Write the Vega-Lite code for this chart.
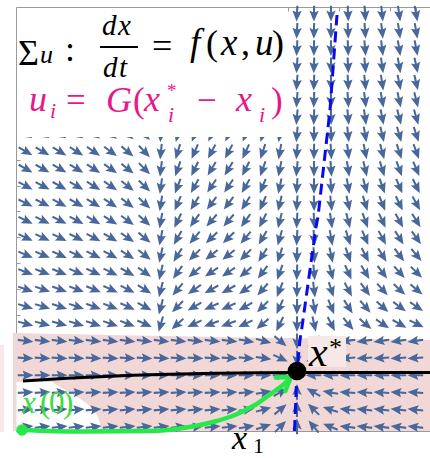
{
  "$schema": "https://vega.github.io/schema/vega-lite/v6.json",
  "width": 414,
  "height": 424,
  "autosize": {"type": "none"},
  "padding": {"left": 16, "top": 7, "right": 0, "bottom": 27},
  "config": {
    "view": {"stroke": "#9a9a9a", "strokeWidth": 1},
    "axis": {"labels": false, "domain": false, "grid": false, "title": null, "tickColor": "#9a9a9a", "tickSize": -4, "zindex": 1},
    "text": {"font": "Liberation Serif", "align": "left", "baseline": "alphabetic", "clip": false}
  },
  "resolve": {"axis": {"x": "independent", "y": "independent"}},
  "datasets": {
    "field": [
      {"i":16,"j":24,"a":183},{"i":17,"j":24,"a":181},{"i":18,"j":24,"a":180},{"i":19,"j":24,"a":178},{"i":20,"j":24,"a":176},{"i":21,"j":24,"a":174},{"i":22,"j":24,"a":172},{"i":23,"j":24,"a":170},
      {"i":16,"j":23,"a":183},{"i":17,"j":23,"a":181},{"i":18,"j":23,"a":180},{"i":19,"j":23,"a":178},{"i":20,"j":23,"a":176},{"i":21,"j":23,"a":174},{"i":22,"j":23,"a":172},{"i":23,"j":23,"a":170},
      {"i":16,"j":22,"a":183},{"i":17,"j":22,"a":181},{"i":18,"j":22,"a":180},{"i":19,"j":22,"a":178},{"i":20,"j":22,"a":175},{"i":21,"j":22,"a":173},{"i":22,"j":22,"a":171},{"i":23,"j":22,"a":169},
      {"i":16,"j":21,"a":184},{"i":17,"j":21,"a":182},{"i":18,"j":21,"a":180},{"i":19,"j":21,"a":177},{"i":20,"j":21,"a":175},{"i":21,"j":21,"a":172},{"i":22,"j":21,"a":170},{"i":23,"j":21,"a":168},
      {"i":16,"j":20,"a":184},{"i":17,"j":20,"a":182},{"i":18,"j":20,"a":179},{"i":19,"j":20,"a":177},{"i":20,"j":20,"a":174},{"i":21,"j":20,"a":171},{"i":22,"j":20,"a":169},{"i":23,"j":20,"a":167},
      {"i":16,"j":19,"a":184},{"i":17,"j":19,"a":182},{"i":18,"j":19,"a":179},{"i":19,"j":19,"a":176},{"i":20,"j":19,"a":173},{"i":21,"j":19,"a":170},{"i":22,"j":19,"a":168},{"i":23,"j":19,"a":166},
      {"i":16,"j":18,"a":185},{"i":17,"j":18,"a":182},{"i":18,"j":18,"a":179},{"i":19,"j":18,"a":175},{"i":20,"j":18,"a":172},{"i":21,"j":18,"a":169},{"i":22,"j":18,"a":166},{"i":23,"j":18,"a":164},
      {"i":0,"j":17,"a":120},{"i":1,"j":17,"a":120},{"i":2,"j":17,"a":121},{"i":3,"j":17,"a":122},{"i":4,"j":17,"a":124},{"i":5,"j":17,"a":126},{"i":6,"j":17,"a":130},{"i":7,"j":17,"a":136},
      {"i":8,"j":17,"a":185},{"i":9,"j":17,"a":195},{"i":10,"j":17,"a":202},{"i":11,"j":17,"a":206},{"i":12,"j":17,"a":206},{"i":13,"j":17,"a":203},{"i":14,"j":17,"a":197},{"i":15,"j":17,"a":190},
      {"i":16,"j":17,"a":185},{"i":17,"j":17,"a":181},{"i":18,"j":17,"a":178},{"i":19,"j":17,"a":174},{"i":20,"j":17,"a":170},{"i":21,"j":17,"a":167},{"i":22,"j":17,"a":164},{"i":23,"j":17,"a":162},
      {"i":0,"j":16,"a":120},{"i":1,"j":16,"a":120},{"i":2,"j":16,"a":121},{"i":3,"j":16,"a":122},{"i":4,"j":16,"a":124},{"i":5,"j":16,"a":126},{"i":6,"j":16,"a":130},{"i":7,"j":16,"a":136},
      {"i":8,"j":16,"a":186},{"i":9,"j":16,"a":197},{"i":10,"j":16,"a":204},{"i":11,"j":16,"a":208},{"i":12,"j":16,"a":208},{"i":13,"j":16,"a":205},{"i":14,"j":16,"a":198},{"i":15,"j":16,"a":190},
      {"i":16,"j":16,"a":185},{"i":17,"j":16,"a":181},{"i":18,"j":16,"a":177},{"i":19,"j":16,"a":173},{"i":20,"j":16,"a":169},{"i":21,"j":16,"a":165},{"i":22,"j":16,"a":162},{"i":23,"j":16,"a":160},
      {"i":0,"j":15,"a":119},{"i":1,"j":15,"a":119},{"i":2,"j":15,"a":120},{"i":3,"j":15,"a":121},{"i":4,"j":15,"a":123},{"i":5,"j":15,"a":125},{"i":6,"j":15,"a":129},{"i":7,"j":15,"a":135},
      {"i":8,"j":15,"a":187},{"i":9,"j":15,"a":199},{"i":10,"j":15,"a":206},{"i":11,"j":15,"a":211},{"i":12,"j":15,"a":211},{"i":13,"j":15,"a":207},{"i":14,"j":15,"a":200},{"i":15,"j":15,"a":191},
      {"i":16,"j":15,"a":185},{"i":17,"j":15,"a":180},{"i":18,"j":15,"a":176},{"i":19,"j":15,"a":171},{"i":20,"j":15,"a":167},{"i":21,"j":15,"a":163},{"i":22,"j":15,"a":160},{"i":23,"j":15,"a":157},
      {"i":0,"j":14,"a":118},{"i":1,"j":14,"a":118},{"i":2,"j":14,"a":119},{"i":3,"j":14,"a":120},{"i":4,"j":14,"a":122},{"i":5,"j":14,"a":124},{"i":6,"j":14,"a":128},{"i":7,"j":14,"a":134},
      {"i":8,"j":14,"a":188},{"i":9,"j":14,"a":201},{"i":10,"j":14,"a":209},{"i":11,"j":14,"a":214},{"i":12,"j":14,"a":214},{"i":13,"j":14,"a":210},{"i":14,"j":14,"a":202},{"i":15,"j":14,"a":192},
      {"i":16,"j":14,"a":184},{"i":17,"j":14,"a":180},{"i":18,"j":14,"a":175},{"i":19,"j":14,"a":170},{"i":20,"j":14,"a":165},{"i":21,"j":14,"a":161},{"i":22,"j":14,"a":157},{"i":23,"j":14,"a":154},
      {"i":0,"j":13,"a":117},{"i":1,"j":13,"a":117},{"i":2,"j":13,"a":118},{"i":3,"j":13,"a":119},{"i":4,"j":13,"a":121},{"i":5,"j":13,"a":123},{"i":6,"j":13,"a":127},{"i":7,"j":13,"a":133},
      {"i":8,"j":13,"a":189},{"i":9,"j":13,"a":203},{"i":10,"j":13,"a":212},{"i":11,"j":13,"a":217},{"i":12,"j":13,"a":217},{"i":13,"j":13,"a":213},{"i":14,"j":13,"a":204},{"i":15,"j":13,"a":193},
      {"i":16,"j":13,"a":184},{"i":17,"j":13,"a":179},{"i":18,"j":13,"a":174},{"i":19,"j":13,"a":168},{"i":20,"j":13,"a":163},{"i":21,"j":13,"a":158},{"i":22,"j":13,"a":154},{"i":23,"j":13,"a":151},
      {"i":0,"j":12,"a":116},{"i":1,"j":12,"a":116},{"i":2,"j":12,"a":117},{"i":3,"j":12,"a":118},{"i":4,"j":12,"a":120},{"i":5,"j":12,"a":122},{"i":6,"j":12,"a":126},{"i":7,"j":12,"a":132},
      {"i":8,"j":12,"a":190},{"i":9,"j":12,"a":206},{"i":10,"j":12,"a":216},{"i":11,"j":12,"a":221},{"i":12,"j":12,"a":221},{"i":13,"j":12,"a":216},{"i":14,"j":12,"a":207},{"i":15,"j":12,"a":194},
      {"i":16,"j":12,"a":183},{"i":17,"j":12,"a":178},{"i":18,"j":12,"a":172},{"i":19,"j":12,"a":166},{"i":20,"j":12,"a":160},{"i":21,"j":12,"a":155},{"i":22,"j":12,"a":151},{"i":23,"j":12,"a":148},
      {"i":0,"j":11,"a":115},{"i":1,"j":11,"a":115},{"i":2,"j":11,"a":116},{"i":3,"j":11,"a":117},{"i":4,"j":11,"a":118},{"i":5,"j":11,"a":120},{"i":6,"j":11,"a":124},{"i":7,"j":11,"a":130},
      {"i":8,"j":11,"a":191},{"i":9,"j":11,"a":209},{"i":10,"j":11,"a":220},{"i":11,"j":11,"a":226},{"i":12,"j":11,"a":226},{"i":13,"j":11,"a":220},{"i":14,"j":11,"a":210},{"i":15,"j":11,"a":196},
      {"i":16,"j":11,"a":183},{"i":17,"j":11,"a":177},{"i":18,"j":11,"a":170},{"i":19,"j":11,"a":163},{"i":20,"j":11,"a":157},{"i":21,"j":11,"a":152},{"i":22,"j":11,"a":148},{"i":23,"j":11,"a":144},
      {"i":0,"j":10,"a":113},{"i":1,"j":10,"a":113},{"i":2,"j":10,"a":114},{"i":3,"j":10,"a":115},{"i":4,"j":10,"a":116},{"i":5,"j":10,"a":118},{"i":6,"j":10,"a":122},{"i":7,"j":10,"a":128},
      {"i":8,"j":10,"a":192},{"i":9,"j":10,"a":212},{"i":10,"j":10,"a":225},{"i":11,"j":10,"a":231},{"i":12,"j":10,"a":231},{"i":13,"j":10,"a":225},{"i":14,"j":10,"a":213},{"i":15,"j":10,"a":198},
      {"i":16,"j":10,"a":182},{"i":17,"j":10,"a":176},{"i":18,"j":10,"a":168},{"i":19,"j":10,"a":160},{"i":20,"j":10,"a":153},{"i":21,"j":10,"a":148},{"i":22,"j":10,"a":143},{"i":23,"j":10,"a":140},
      {"i":0,"j":9,"a":111},{"i":1,"j":9,"a":111},{"i":2,"j":9,"a":112},{"i":3,"j":9,"a":113},{"i":4,"j":9,"a":114},{"i":5,"j":9,"a":116},{"i":6,"j":9,"a":119},{"i":7,"j":9,"a":125},
      {"i":8,"j":9,"a":193},{"i":9,"j":9,"a":216},{"i":10,"j":9,"a":230},{"i":11,"j":9,"a":236},{"i":12,"j":9,"a":236},{"i":13,"j":9,"a":230},{"i":14,"j":9,"a":217},{"i":15,"j":9,"a":200},
      {"i":16,"j":9,"a":182},{"i":17,"j":9,"a":175},{"i":18,"j":9,"a":165},{"i":19,"j":9,"a":156},{"i":20,"j":9,"a":149},{"i":21,"j":9,"a":143},{"i":22,"j":9,"a":138},{"i":23,"j":9,"a":135},
      {"i":0,"j":8,"a":109},{"i":1,"j":8,"a":109},{"i":2,"j":8,"a":110},{"i":3,"j":8,"a":111},{"i":4,"j":8,"a":112},{"i":5,"j":8,"a":114},{"i":6,"j":8,"a":117},{"i":7,"j":8,"a":122},
      {"i":8,"j":8,"a":194},{"i":9,"j":8,"a":220},{"i":10,"j":8,"a":235},{"i":11,"j":8,"a":241},{"i":12,"j":8,"a":241},{"i":13,"j":8,"a":235},{"i":14,"j":8,"a":221},{"i":15,"j":8,"a":202},
      {"i":16,"j":8,"a":181},{"i":17,"j":8,"a":173},{"i":18,"j":8,"a":162},{"i":19,"j":8,"a":152},{"i":20,"j":8,"a":144},{"i":21,"j":8,"a":138},{"i":22,"j":8,"a":133},{"i":23,"j":8,"a":130},
      {"i":0,"j":7,"a":107},{"i":1,"j":7,"a":107},{"i":2,"j":7,"a":108},{"i":3,"j":7,"a":109},{"i":4,"j":7,"a":110},{"i":5,"j":7,"a":111},{"i":6,"j":7,"a":114},{"i":7,"j":7,"a":118},
      {"i":8,"j":7,"a":195},{"i":9,"j":7,"a":224},{"i":10,"j":7,"a":240},{"i":11,"j":7,"a":246},{"i":12,"j":7,"a":246},{"i":13,"j":7,"a":240},{"i":14,"j":7,"a":225},{"i":15,"j":7,"a":204},
      {"i":16,"j":7,"a":181},{"i":17,"j":7,"a":171},{"i":18,"j":7,"a":158},{"i":19,"j":7,"a":147},{"i":20,"j":7,"a":139},{"i":21,"j":7,"a":132},{"i":22,"j":7,"a":127},{"i":23,"j":7,"a":124},
      {"i":0,"j":6,"a":105},{"i":1,"j":6,"a":105},{"i":2,"j":6,"a":106},{"i":3,"j":6,"a":107},{"i":4,"j":6,"a":108},{"i":5,"j":6,"a":109},{"i":6,"j":6,"a":111},{"i":7,"j":6,"a":114},
      {"i":8,"j":6,"a":196},{"i":9,"j":6,"a":228},{"i":10,"j":6,"a":245},{"i":11,"j":6,"a":250},{"i":12,"j":6,"a":250},{"i":13,"j":6,"a":245},{"i":14,"j":6,"a":230},{"i":15,"j":6,"a":206},
      {"i":16,"j":6,"a":180},{"i":17,"j":6,"a":168},{"i":18,"j":6,"a":153},{"i":19,"j":6,"a":140},{"i":20,"j":6,"a":131},{"i":21,"j":6,"a":124},{"i":22,"j":6,"a":119},{"i":23,"j":6,"a":116},
      {"i":0,"j":5,"a":97},{"i":1,"j":5,"a":97},{"i":2,"j":5,"a":97},{"i":3,"j":5,"a":97},{"i":4,"j":5,"a":97},{"i":5,"j":5,"a":97},{"i":6,"j":5,"a":97},{"i":7,"j":5,"a":97},
      {"i":8,"j":5,"a":97},{"i":9,"j":5,"a":97},{"i":10,"j":5,"a":97},{"i":11,"j":5,"a":97},{"i":12,"j":5,"a":97},{"i":13,"j":5,"a":100},{"i":14,"j":5,"a":105},{"i":15,"j":5,"a":130},
      {"i":16,"j":5,"a":180},{"i":17,"j":5,"a":230},{"i":18,"j":5,"a":255},{"i":19,"j":5,"a":262},{"i":20,"j":5,"a":262},{"i":21,"j":5,"a":262},{"i":22,"j":5,"a":262},{"i":23,"j":5,"a":262},
      {"i":0,"j":4,"a":93},{"i":1,"j":4,"a":93},{"i":2,"j":4,"a":93},{"i":3,"j":4,"a":93},{"i":4,"j":4,"a":93},{"i":5,"j":4,"a":93},{"i":6,"j":4,"a":93},{"i":7,"j":4,"a":93},
      {"i":8,"j":4,"a":93},{"i":9,"j":4,"a":93},{"i":10,"j":4,"a":93},{"i":11,"j":4,"a":93},{"i":12,"j":4,"a":93},{"i":13,"j":4,"a":95},{"i":14,"j":4,"a":98},{"i":15,"j":4,"a":115},
      {"i":16,"j":4,"a":180},{"i":17,"j":4,"a":245},{"i":18,"j":4,"a":262},{"i":19,"j":4,"a":266},{"i":20,"j":4,"a":266},{"i":21,"j":4,"a":266},{"i":22,"j":4,"a":266},{"i":23,"j":4,"a":266},
      {"i":0,"j":3,"a":90},{"i":1,"j":3,"a":90},{"i":2,"j":3,"a":90},{"i":3,"j":3,"a":90},{"i":4,"j":3,"a":90},{"i":5,"j":3,"a":90},{"i":6,"j":3,"a":90},{"i":7,"j":3,"a":90},
      {"i":8,"j":3,"a":90},{"i":9,"j":3,"a":90},{"i":10,"j":3,"a":90},{"i":11,"j":3,"a":90},{"i":12,"j":3,"a":90},{"i":13,"j":3,"a":90},{"i":14,"j":3,"a":90},{"i":15,"j":3,"a":90},
      {"i":16,"j":3,"a":90},{"i":17,"j":3,"a":270},{"i":18,"j":3,"a":270},{"i":19,"j":3,"a":270},{"i":20,"j":3,"a":270},{"i":21,"j":3,"a":270},{"i":22,"j":3,"a":270},{"i":23,"j":3,"a":270},
      {"i":0,"j":2,"a":87},{"i":1,"j":2,"a":87},{"i":2,"j":2,"a":87},{"i":3,"j":2,"a":87},{"i":4,"j":2,"a":87},{"i":5,"j":2,"a":87},{"i":6,"j":2,"a":87},{"i":7,"j":2,"a":87},
      {"i":8,"j":2,"a":87},{"i":9,"j":2,"a":87},{"i":10,"j":2,"a":87},{"i":11,"j":2,"a":87},{"i":12,"j":2,"a":87},{"i":13,"j":2,"a":85},{"i":14,"j":2,"a":80},{"i":15,"j":2,"a":60},
      {"i":16,"j":2,"a":0},{"i":17,"j":2,"a":300},{"i":18,"j":2,"a":280},{"i":19,"j":2,"a":274},{"i":20,"j":2,"a":274},{"i":21,"j":2,"a":274},{"i":22,"j":2,"a":274},{"i":23,"j":2,"a":274},
      {"i":0,"j":1,"a":85},{"i":1,"j":1,"a":85},{"i":2,"j":1,"a":85},{"i":3,"j":1,"a":85},{"i":4,"j":1,"a":85},{"i":5,"j":1,"a":85},{"i":6,"j":1,"a":85},{"i":7,"j":1,"a":85},
      {"i":8,"j":1,"a":85},{"i":9,"j":1,"a":85},{"i":10,"j":1,"a":85},{"i":11,"j":1,"a":85},{"i":12,"j":1,"a":85},{"i":13,"j":1,"a":82},{"i":14,"j":1,"a":75},{"i":15,"j":1,"a":50},
      {"i":16,"j":1,"a":0},{"i":17,"j":1,"a":315},{"i":18,"j":1,"a":288},{"i":19,"j":1,"a":276},{"i":20,"j":1,"a":276},{"i":21,"j":1,"a":276},{"i":22,"j":1,"a":276},{"i":23,"j":1,"a":276},
      {"i":0,"j":0,"a":84},{"i":1,"j":0,"a":84},{"i":2,"j":0,"a":84},{"i":3,"j":0,"a":84},{"i":4,"j":0,"a":84},{"i":5,"j":0,"a":84},{"i":6,"j":0,"a":84},{"i":7,"j":0,"a":84},
      {"i":8,"j":0,"a":84},{"i":9,"j":0,"a":84},{"i":10,"j":0,"a":84},{"i":11,"j":0,"a":84},{"i":12,"j":0,"a":84},{"i":13,"j":0,"a":80},{"i":14,"j":0,"a":72},{"i":15,"j":0,"a":45},
      {"i":16,"j":0,"a":0},{"i":17,"j":0,"a":320},{"i":18,"j":0,"a":292},{"i":19,"j":0,"a":277},{"i":20,"j":0,"a":277},{"i":21,"j":0,"a":277},{"i":22,"j":0,"a":277},{"i":23,"j":0,"a":277}
    ],
    "labels": [
      {"t":"Σ","i":-0.412,"j":20.986,"role":"eq-sym"},
      {"t":":","i":2.353,"j":21.217,"role":"eq-sym"},
      {"t":"=","i":7.471,"j":21.391,"role":"eq-sym"},
      {"t":"(","i":10.647,"j":21.565,"role":"eq-sym"},
      {"t":",","i":12.706,"j":21.565,"role":"eq-sym"},
      {"t":")","i":14.529,"j":21.565,"role":"eq-sym"},
      {"t":"f","i":9.706,"j":21.565,"role":"eq-var"},
      {"t":"x","i":11.529,"j":21.565,"role":"eq-var"},
      {"t":"u","i":13.529,"j":21.565,"role":"eq-var"},
      {"t":"d","i":4.529,"j":22.725,"role":"eq-frac"},
      {"t":"x","i":5.47,"j":22.725,"role":"eq-frac"},
      {"t":"d","i":4.588,"j":20.29,"role":"eq-frac"},
      {"t":"t","i":5.53,"j":20.29,"role":"eq-frac"},
      {"t":"u","i":0.882,"j":21.101,"role":"eq-sub"},
      {"t":"=","i":2.412,"j":18.261,"role":"law-sym"},
      {"t":"(","i":6.353,"j":18.261,"role":"law-sym"},
      {"t":"−","i":10.118,"j":18.261,"role":"law-sym"},
      {"t":")","i":14.471,"j":18.261,"role":"law-sym"},
      {"t":"u","i":0.235,"j":18.319,"role":"law-var"},
      {"t":"G","i":4.765,"j":18.261,"role":"law-var"},
      {"t":"x","i":7.0,"j":18.319,"role":"law-var"},
      {"t":"x","i":12.412,"j":18.319,"role":"law-var"},
      {"t":"i","i":1.471,"j":17.913,"role":"law-sub"},
      {"t":"i","i":8.412,"j":17.681,"role":"law-sub"},
      {"t":"i","i":13.765,"j":17.681,"role":"law-sub"},
      {"t":"*","i":8.353,"j":19.13,"role":"law-star"},
      {"t":"x","i":16.706,"j":3.536,"role":"eq-pt"},
      {"t":"*","i":17.882,"j":4.116,"role":"eq-pt-star"},
      {"t":"x","i":-0.176,"j":0.812,"role":"init-var"},
      {"t":"(","i":0.882,"j":0.812,"role":"init-sym"},
      {"t":"0","i":1.412,"j":0.812,"role":"init-sym"},
      {"t":")","i":2.235,"j":0.812,"role":"init-sym"},
      {"t":"x","i":12.176,"j":-1.275,"role":"axis-var"},
      {"t":"1","i":13.412,"j":-1.507,"role":"axis-sub"}
    ]
  },
  "layer": [
    {
      "data": {"values": [{"i":-0.706,"j":5.449},{"i":11.176,"j":5.217},{"i":23.824,"j":5.043}]},
      "mark": {"type": "area", "color": "#f1d8d6", "clip": false},
      "encoding": {
        "x": {"field": "i", "type": "quantitative", "scale": {"domain": [-0.529, 23.824], "nice": false, "zero": false}, "axis": {"orient": "bottom", "values": [0.5, 2, 3.5, 5, 6.5, 8, 9.5, 11, 12.5, 14, 15.5, 17, 18.5, 20, 21.5, 23]}},
        "y": {"field": "j", "type": "quantitative", "scale": {"domain": [-0.232, 24.348], "nice": false, "zero": false}, "axis": {"orient": "left", "values": [0.5, 2, 3.5, 5, 6.5, 8, 9.5, 11, 12.5, 14, 15.5, 17, 18.5, 20, 21.5, 23]}},
        "y2": {"datum": -0.232}
      }
    },
    {
      "data": {"values": [{"i":-1.471,"i2":-1.235,"j":4.754,"j2":-0.29}]},
      "mark": {"type": "rect", "color": "#f8e7e6", "clip": false},
      "encoding": {
        "x": {"field": "i", "type": "quantitative", "axis": {"orient": "top", "values": [0.5, 2, 3.5, 5, 6.5, 8, 9.5, 11, 12.5, 14, 15.5, 17, 18.5, 20, 21.5, 23]}},
        "x2": {"field": "i2"},
        "y": {"field": "j", "type": "quantitative", "axis": null},
        "y2": {"field": "j2"}
      }
    },
    {
      "data": {"values": [{"j":2.609,"b":1.588},{"j":2.145,"b":2.353},{"j":1.565,"b":3.353},{"j":0.986,"b":4.059},{"j":0.406,"b":4.353},{"j":-0.232,"b":4.471}]},
      "mark": {"type": "area", "orient": "horizontal", "color": "#ffffff", "interpolate": "monotone"},
      "encoding": {
        "y": {"field": "j", "type": "quantitative", "axis": null},
        "x": {"field": "b", "type": "quantitative", "axis": null},
        "x2": {"datum": -0.5}
      }
    },
    {
      "data": {"name": "field"},
      "mark": {"type": "point", "filled": true, "color": "#48679a", "opacity": 1, "size": 290, "strokeWidth": 0,
               "shape": "M0,-1L0.55,0.28L0.12,0.1L0.12,0.85L-0.12,0.85L-0.12,0.1L-0.55,0.28Z"},
      "encoding": {
        "x": {"field": "i", "type": "quantitative", "axis": null},
        "y": {"field": "j", "type": "quantitative", "axis": null},
        "angle": {"field": "a", "type": "quantitative", "scale": null}
      }
    },
    {
      "data": {"values": [{"i":16.647,"i2":18.882,"j":5.275,"j2":3.478}]},
      "mark": {"type": "rect", "color": "#f6e8e6"},
      "encoding": {
        "x": {"field": "i", "type": "quantitative", "axis": null},
        "x2": {"field": "i2"},
        "y": {"field": "j", "type": "quantitative", "axis": null},
        "y2": {"field": "j2"}
      }
    },
    {
      "data": {"values": [{"i":-0.471,"i2":15.412,"j":24.29,"j2":16.812}]},
      "mark": {"type": "rect", "color": "#ffffff"},
      "encoding": {
        "x": {"field": "i", "type": "quantitative", "axis": null},
        "x2": {"field": "i2"},
        "y": {"field": "j", "type": "quantitative", "axis": null},
        "y2": {"field": "j2"}
      }
    },
    {
      "data": {"values": [{"i":-0.118,"j":2.667},{"i":2.471,"j":2.823},{"i":6.353,"j":2.997},{"i":11.176,"j":3.113},{"i":16,"j":3.159},{"i":23.824,"j":3.159}]},
      "mark": {"type": "line", "color": "#000000", "strokeWidth": 3, "interpolate": "monotone"},
      "encoding": {
        "x": {"field": "i", "type": "quantitative", "axis": null},
        "y": {"field": "j", "type": "quantitative", "axis": null}
      }
    },
    {
      "data": {"values": [{"k":0,"i":15.853,"j":-0.232},{"k":1,"i":16,"j":3.246},{"k":2,"i":16.176,"j":5.043},{"k":3,"i":16.294,"j":5.797},{"k":4,"i":17.118,"j":11.594},{"k":5,"i":17.235,"j":12.174},{"k":6,"i":17.941,"j":18.377},{"k":7,"i":18.353,"j":23.884}]},
      "mark": {"type": "line", "color": "#0a0aee", "strokeWidth": 3, "strokeDash": [11, 6]},
      "encoding": {
        "x": {"field": "i", "type": "quantitative", "axis": null},
        "y": {"field": "j", "type": "quantitative", "axis": null},
        "order": {"field": "k"}
      }
    },
    {
      "data": {"values": [{"i":-0.176,"j":-0.174},{"i":3.235,"j":-0.261},{"i":7.353,"j":-0.232},{"i":9.294,"j":-0.058},{"i":11.176,"j":0.319},{"i":12.353,"j":0.696},{"i":13.529,"j":1.275},{"i":14.529,"j":1.971},{"i":15.176,"j":2.435},{"i":15.647,"j":2.899}]},
      "mark": {"type": "line", "color": "#27e84b", "strokeWidth": 4.5, "interpolate": "monotone", "clip": false, "strokeCap": "round"},
      "encoding": {
        "x": {"field": "i", "type": "quantitative", "axis": null},
        "y": {"field": "j", "type": "quantitative", "axis": null}
      }
    },
    {
      "data": {"values": [{"i":15.647,"j":2.899,"a":55}]},
      "mark": {"type": "point", "filled": false, "color": "#27e84b", "strokeWidth": 4.5, "opacity": 1, "size": 900, "strokeCap": "round", "strokeJoin": "round",
               "shape": "M-0.55,0.85L0,0L0.55,0.85"},
      "encoding": {
        "x": {"field": "i", "type": "quantitative", "axis": null},
        "y": {"field": "j", "type": "quantitative", "axis": null},
        "angle": {"field": "a", "type": "quantitative", "scale": null}
      }
    },
    {
      "data": {"values": [{"i":-0.176,"j":-0.174}]},
      "mark": {"type": "point", "shape": "circle", "filled": true, "color": "#27e84b", "opacity": 1, "size": 130, "clip": false},
      "encoding": {
        "x": {"field": "i", "type": "quantitative", "axis": null},
        "y": {"field": "j", "type": "quantitative", "axis": null}
      }
    },
    {
      "data": {"values": [{"i":16,"j":3.246}]},
      "mark": {"type": "point", "shape": "circle", "filled": true, "color": "#000000", "opacity": 1, "size": 350},
      "encoding": {
        "x": {"field": "i", "type": "quantitative", "axis": null},
        "y": {"field": "j", "type": "quantitative", "axis": null}
      }
    },
    {
      "data": {"values": [{"i":4.412,"i2":6.647,"j":22.029}]},
      "mark": {"type": "rule", "color": "#000000", "strokeWidth": 1.8},
      "encoding": {
        "x": {"field": "i", "type": "quantitative", "axis": null},
        "x2": {"field": "i2"},
        "y": {"field": "j", "type": "quantitative", "axis": null}
      }
    },
    {
      "data": {"name": "labels"},
      "transform": [{"filter": "datum.role === 'eq-sym'"}],
      "mark": {"type": "text", "fontSize": 36, "color": "#000000"},
      "encoding": {"x": {"field": "i", "type": "quantitative", "axis": null}, "y": {"field": "j", "type": "quantitative", "axis": null}, "text": {"field": "t"}}
    },
    {
      "data": {"name": "labels"},
      "transform": [{"filter": "datum.role === 'eq-var'"}],
      "mark": {"type": "text", "fontStyle": "italic", "fontSize": 37, "color": "#000000"},
      "encoding": {"x": {"field": "i", "type": "quantitative", "axis": null}, "y": {"field": "j", "type": "quantitative", "axis": null}, "text": {"field": "t"}}
    },
    {
      "data": {"name": "labels"},
      "transform": [{"filter": "datum.role === 'eq-frac'"}],
      "mark": {"type": "text", "fontStyle": "italic", "fontSize": 29, "color": "#000000"},
      "encoding": {"x": {"field": "i", "type": "quantitative", "axis": null}, "y": {"field": "j", "type": "quantitative", "axis": null}, "text": {"field": "t"}}
    },
    {
      "data": {"name": "labels"},
      "transform": [{"filter": "datum.role === 'eq-sub'"}],
      "mark": {"type": "text", "fontStyle": "italic", "fontSize": 26, "color": "#000000"},
      "encoding": {"x": {"field": "i", "type": "quantitative", "axis": null}, "y": {"field": "j", "type": "quantitative", "axis": null}, "text": {"field": "t"}}
    },
    {
      "data": {"name": "labels"},
      "transform": [{"filter": "datum.role === 'law-sym'"}],
      "mark": {"type": "text", "fontSize": 35, "color": "#e8168b"},
      "encoding": {"x": {"field": "i", "type": "quantitative", "axis": null}, "y": {"field": "j", "type": "quantitative", "axis": null}, "text": {"field": "t"}}
    },
    {
      "data": {"name": "labels"},
      "transform": [{"filter": "datum.role === 'law-var'"}],
      "mark": {"type": "text", "fontStyle": "italic", "fontSize": 36, "color": "#e8168b"},
      "encoding": {"x": {"field": "i", "type": "quantitative", "axis": null}, "y": {"field": "j", "type": "quantitative", "axis": null}, "text": {"field": "t"}}
    },
    {
      "data": {"name": "labels"},
      "transform": [{"filter": "datum.role === 'law-sub'"}],
      "mark": {"type": "text", "fontStyle": "italic", "fontSize": 22, "color": "#e8168b"},
      "encoding": {"x": {"field": "i", "type": "quantitative", "axis": null}, "y": {"field": "j", "type": "quantitative", "axis": null}, "text": {"field": "t"}}
    },
    {
      "data": {"name": "labels"},
      "transform": [{"filter": "datum.role === 'law-star'"}],
      "mark": {"type": "text", "fontSize": 19, "color": "#e8168b"},
      "encoding": {"x": {"field": "i", "type": "quantitative", "axis": null}, "y": {"field": "j", "type": "quantitative", "axis": null}, "text": {"field": "t"}}
    },
    {
      "data": {"name": "labels"},
      "transform": [{"filter": "datum.role === 'eq-pt'"}],
      "mark": {"type": "text", "fontStyle": "italic", "fontSize": 42, "color": "#000000"},
      "encoding": {"x": {"field": "i", "type": "quantitative", "axis": null}, "y": {"field": "j", "type": "quantitative", "axis": null}, "text": {"field": "t"}}
    },
    {
      "data": {"name": "labels"},
      "transform": [{"filter": "datum.role === 'eq-pt-star'"}],
      "mark": {"type": "text", "fontSize": 26, "color": "#000000"},
      "encoding": {"x": {"field": "i", "type": "quantitative", "axis": null}, "y": {"field": "j", "type": "quantitative", "axis": null}, "text": {"field": "t"}}
    },
    {
      "data": {"name": "labels"},
      "transform": [{"filter": "datum.role === 'init-var'"}],
      "mark": {"type": "text", "fontStyle": "italic", "fontSize": 31, "color": "#3ddc3d"},
      "encoding": {"x": {"field": "i", "type": "quantitative", "axis": null}, "y": {"field": "j", "type": "quantitative", "axis": null}, "text": {"field": "t"}}
    },
    {
      "data": {"name": "labels"},
      "transform": [{"filter": "datum.role === 'init-sym'"}],
      "mark": {"type": "text", "fontSize": 31, "color": "#3ddc3d"},
      "encoding": {"x": {"field": "i", "type": "quantitative", "axis": null}, "y": {"field": "j", "type": "quantitative", "axis": null}, "text": {"field": "t"}}
    },
    {
      "data": {"name": "labels"},
      "transform": [{"filter": "datum.role === 'axis-var'"}],
      "mark": {"type": "text", "fontStyle": "italic", "fontSize": 34, "color": "#000000"},
      "encoding": {"x": {"field": "i", "type": "quantitative", "axis": null}, "y": {"field": "j", "type": "quantitative", "axis": null}, "text": {"field": "t"}}
    },
    {
      "data": {"name": "labels"},
      "transform": [{"filter": "datum.role === 'axis-sub'"}],
      "mark": {"type": "text", "fontSize": 22, "color": "#000000"},
      "encoding": {"x": {"field": "i", "type": "quantitative", "axis": null}, "y": {"field": "j", "type": "quantitative", "axis": null}, "text": {"field": "t"}}
    }
  ]
}
